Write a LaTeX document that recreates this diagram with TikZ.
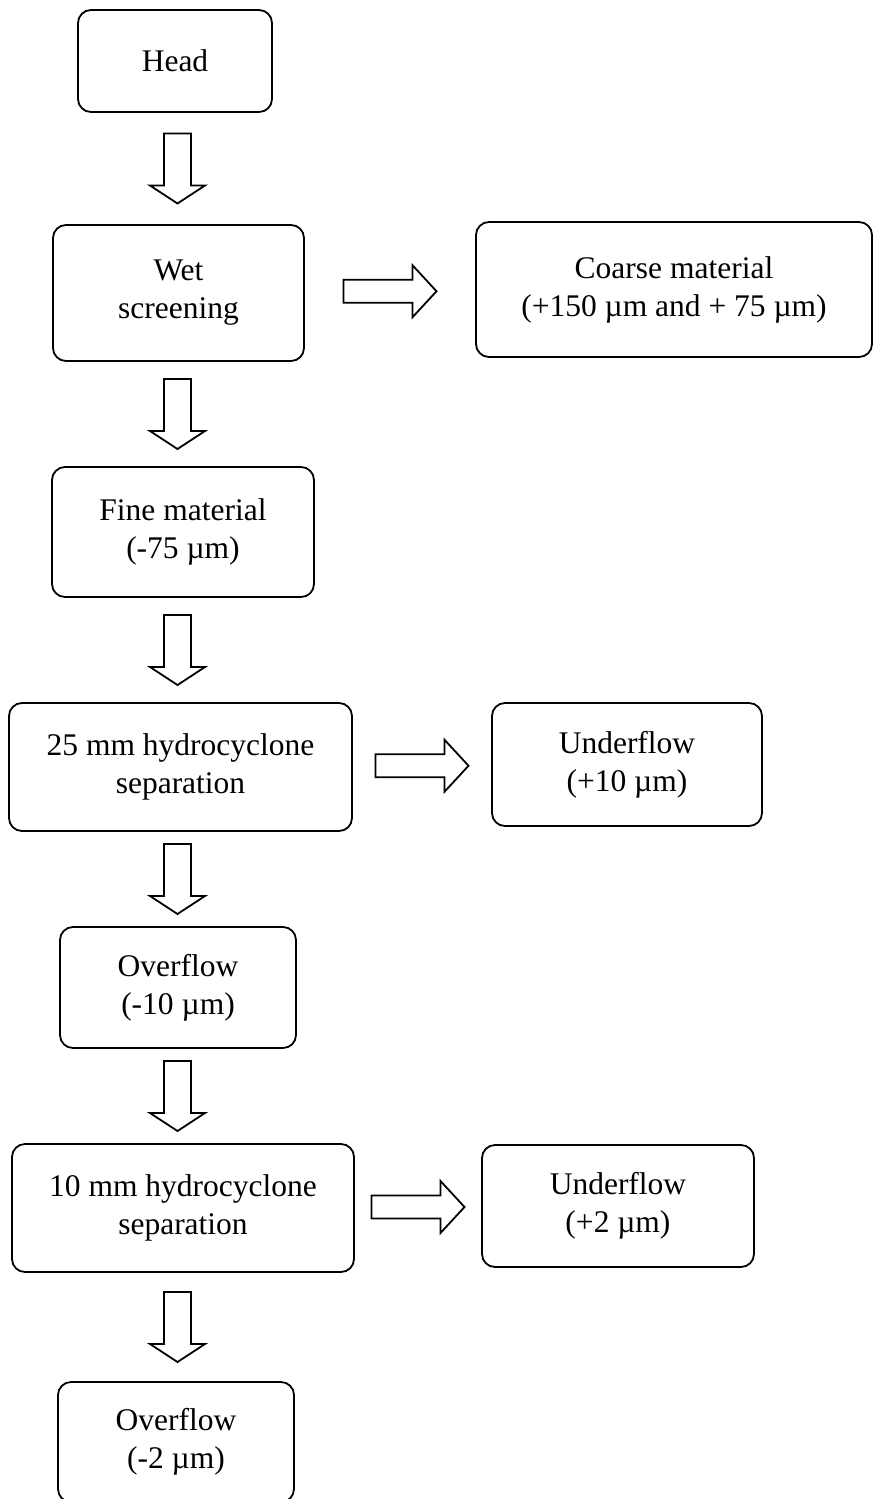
\documentclass[tikz,border=0pt]{standalone}
\usepackage{fontspec}
\setmainfont{Liberation Serif}
\usetikzlibrary{calc}
\tikzset{
  box/.style={draw, line width=1.8pt, rounded corners=13pt, align=center, inner sep=0pt,
    font=\fontsize{31.5}{38}\selectfont},
  arrline/.style={draw, line width=1.8pt, fill=white, line join=miter},
  downarr/.pic={\path[arrline] (-13.5,-35) -- (13.5,-35) -- (13.5,17) -- (27.5,17) -- (0,35) -- (-27.5,17) -- (-13.5,17) -- cycle;},
  rightarr/.pic={\path[arrline] (-46.5,-11.5) -- (22.5,-11.5) -- (22.5,-26) -- (46.5,0) -- (22.5,26) -- (22.5,11.5) -- (-46.5,11.5) -- cycle;}
}
\begin{document}
\begin{tikzpicture}[x=1pt,y=-1pt]
\useasboundingbox (0,0) rectangle (878,1499);
\node[box, minimum width=194pt, minimum height=102pt] (head) at (175,61) {Head};
\node[box, minimum width=251pt, minimum height=136pt] (wet) at (178.5,293) {Wet\\screening};
\node[box, minimum width=396pt, minimum height=135pt] (coarse) at (674,289.5) {Coarse material\\(+150 µm and + 75 µm)};
\node[box, minimum width=262pt, minimum height=130pt] (fine) at (183,532) {Fine material\\(-75 µm)};
\node[box, minimum width=343pt, minimum height=128pt] (hcA) at (180.5,767) {25 mm hydrocyclone\\separation};
\node[box, minimum width=270pt, minimum height=123pt] (ufA) at (627,764.5) {Underflow\\(+10 µm)};
\node[box, minimum width=236pt, minimum height=121pt] (ofA) at (178,987.5) {Overflow\\(-10 µm)};
\node[box, minimum width=342pt, minimum height=128pt] (hcB) at (183,1208) {10 mm hydrocyclone\\separation};
\node[box, minimum width=272pt, minimum height=122pt] (ufB) at (618,1206) {Underflow\\(+2 µm)};
\node[box, minimum width=236pt, minimum height=120pt] (ofB) at (176,1442) {Overflow\\(-2 µm)};

\coordinate (axis) at (177.5,0);
\coordinate (m1) at ($(head.south)!0.5!(wet.north)$);
\coordinate (m2) at ($(wet.south)!0.5!(fine.north)$);
\coordinate (m3) at ($(fine.south)!0.5!(hcA.north)$);
\coordinate (m4) at ($(hcA.south)!0.5!(ofA.north)$);
\coordinate (m5) at ($(ofA.south)!0.5!(hcB.north)$);
\coordinate (m6) at ($(hcB.south)!0.5!(ofB.north)$);
\pic at (axis |- m1) {downarr};
\pic at (axis |- m2) {downarr};
\pic at (axis |- m3) {downarr};
\pic at (axis |- m4) {downarr};
\pic at (axis |- m5) {downarr};
\pic at (axis |- m6) {downarr};

\coordinate (h1) at ($(wet.east)!0.5!(coarse.west)$);
\coordinate (h2) at ($(hcA.east)!0.5!(ufA.west)$);
\coordinate (h3) at ($(hcB.east)!0.5!(ufB.west)$);
\pic at (h1) {rightarr};
\pic at (h2) {rightarr};
\pic at (h3) {rightarr};
\end{tikzpicture}
\end{document}
